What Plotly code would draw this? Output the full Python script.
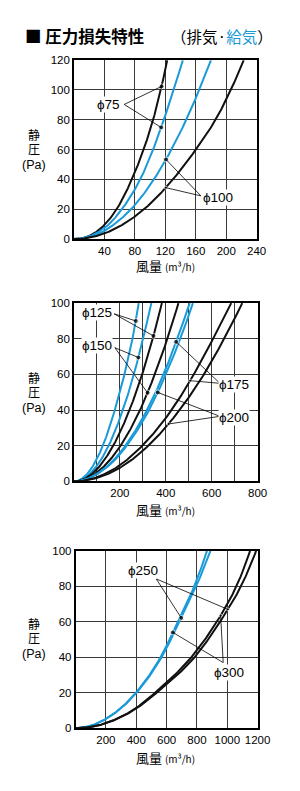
import numpy as np
import plotly.graph_objects as go

BLUE = "#1b9ad8"
BLACK = "#111111"
FONT = "Liberation Sans, Arial, Noto Sans CJK JP"
JFONT = "Noto Sans CJK JP, Liberation Sans"

# ---------------- data (flow m3/h at given static pressure Pa) ----------------
# Chart 1: phi75 / phi100
p1_levels = [0, 5, 10, 20, 40, 60, 80, 100, 120]
q1_phi75_exhaust = [0, 30, 41, 56, 76, 91.5, 104, 114, 122.5]
q1_phi75_supply = [0, 33, 46, 63, 87, 104, 118, 131, 143]
q1_phi100_supply = [0, 38, 53, 75, 105, 128, 147.5, 164.5, 180]
q1_phi100_exhaust = [0, 46, 65, 92, 130, 160, 186, 206, 223]

# Chart 2: phi125 / phi150 / phi175 / phi200
p2_levels = [0, 5, 10, 20, 40, 60, 80, 100]
q2_phi125_supply = [0, 63, 89, 126, 178, 220, 255, 282]
q2_phi150_supply = [0, 75, 107, 151, 213, 261, 301, 337]
q2_phi125_exhaust = [0, 86, 121, 171, 242, 297, 343, 383]
q2_phi150_exhaust = [0, 100, 143, 203, 288, 352, 407, 455]
q2_phi175_supply = [0, 110, 158, 224, 318, 390, 450, 504]
q2_phi200_supply = [0, 112, 162, 230, 327, 400, 463, 518]
q2_phi175_exhaust = [0, 148, 210, 298, 425, 522, 606, 685]
q2_phi200_exhaust = [0, 162, 229, 324, 460, 566, 654, 733]

# Chart 3: phi250 / phi300
p3_levels = [0, 5, 10, 20, 40, 60, 80, 100]
q3_phi250_supply = [0, 195, 280, 398, 560, 674, 782, 866]
q3_phi250_exhaust = [0, 196, 282, 402, 567, 684, 795, 889]
q3_phi300_exhaust = [0, 265, 375, 525, 763, 931, 1060, 1150]
q3_phi300_supply = [0, 268, 380, 535, 784, 952, 1090, 1190]

# tick labels
x1_ticks = [0, 40, 80, 120, 160, 200, 240]
x1_text = ["", "40", "80", "120", "160", "200", "240"]
y1_ticks = [0, 20, 40, 60, 80, 100, 120]
x2_ticks = [0, 100, 200, 300, 400, 500, 600, 700, 800]
x2_text = ["", "", "200", "", "400", "", "600", "", "800"]
y2_ticks = [0, 20, 40, 60, 80, 100]
x3_ticks = [0, 200, 400, 600, 800, 1000, 1200]
x3_text = ["", "200", "400", "600", "800", "1000", "1200"]
y3_ticks = [0, 20, 40, 60, 80, 100]


# ---------------- smooth interpolation (PCHIP in sqrt-pressure space) ----------------
def pchip(xk, yk, xn):
    xk = np.asarray(xk, float); yk = np.asarray(yk, float)
    h = np.diff(xk); delta = np.diff(yk) / h
    n = len(xk)
    d = np.zeros(n)
    for k in range(1, n - 1):
        if delta[k - 1] * delta[k] <= 0:
            d[k] = 0
        else:
            w1 = 2 * h[k] + h[k - 1]; w2 = h[k] + 2 * h[k - 1]
            d[k] = (w1 + w2) / (w1 / delta[k - 1] + w2 / delta[k])
    def endslope(h0, h1, d0, d1):
        s = ((2 * h0 + h1) * d0 - h0 * d1) / (h0 + h1)
        if np.sign(s) != np.sign(d0):
            s = 0
        elif np.sign(d0) != np.sign(d1) and abs(s) > abs(3 * d0):
            s = 3 * d0
        return s
    d[0] = endslope(h[0], h[1], delta[0], delta[1])
    d[-1] = endslope(h[-1], h[-2], delta[-1], delta[-2])
    idx = np.clip(np.searchsorted(xk, xn) - 1, 0, n - 2)
    t = (xn - xk[idx]) / h[idx]
    h00 = 2 * t**3 - 3 * t**2 + 1; h10 = t**3 - 2 * t**2 + t
    h01 = -2 * t**3 + 3 * t**2; h11 = t**3 - t**2
    return h00 * yk[idx] + h10 * h[idx] * d[idx] + h01 * yk[idx + 1] + h11 * h[idx] * d[idx + 1]


def smooth_curve(levels, q):
    s = np.sqrt(np.asarray(levels, float))
    sf = np.linspace(0, s[-1], 200)
    return pchip(s, q, sf), sf**2


# ---------------- layout helpers ----------------
W, H = 300, 791
def PX(x):
    return x / W
def PY(y):
    return 1 - y / H

panels = [
    dict(ax="", xdom=(77.3, 268.3), ydom=(55, 236.7), xr=[0, 240], yr=[0, 120],
         xt=x1_ticks, xtt=x1_text, yt=y1_ticks,
         levels=p1_levels,
         curves=[(q1_phi75_exhaust, BLACK), (q1_phi75_supply, BLUE),
                 (q1_phi100_supply, BLUE), (q1_phi100_exhaust, BLACK)],
         labels=[
             dict(text="ϕ75", pos=(45, 90.3), origin=(66, 90.3),
                  targets=[(q1_phi75_exhaust, 102.4, 5), (q1_phi75_supply, 74.9, 5)]),
             dict(text="ϕ100", pos=(189, 28.2), origin=(166.7, 29),
                  targets=[(q1_phi100_supply, 53.4, 5), (q1_phi100_exhaust, 34.5, 3)]),
         ],
         ytitle=(132, 146, 161), xtitle=264),
    dict(ax="2", xdom=(77.3, 269.3), ydom=(301.7, 482.7), xr=[0, 800], yr=[0, 100],
         xt=x2_ticks, xtt=x2_text, yt=y2_ticks,
         levels=p2_levels,
         curves=[(q2_phi125_supply, BLUE), (q2_phi150_supply, BLUE),
                 (q2_phi125_exhaust, BLACK), (q2_phi150_exhaust, BLACK),
                 (q2_phi175_supply, BLUE), (q2_phi200_supply, BLUE),
                 (q2_phi175_exhaust, BLACK), (q2_phi200_exhaust, BLACK)],
         labels=[
             dict(text="ϕ125", pos=(102, 94.5), origin=(175, 94),
                  targets=[(q2_phi125_supply, 90, 5), (q2_phi125_exhaust, 81.6, 5)]),
             dict(text="ϕ150", pos=(102, 76), origin=(178, 75),
                  targets=[(q2_phi150_supply, 69.5, 5), (q2_phi150_exhaust, 49.7, 5)]),
             dict(text="ϕ175", pos=(699, 54.5), origin=(636, 55),
                  targets=[(q2_phi175_supply, 78.3, 5), (q2_phi175_exhaust, 56.5, 3)]),
             dict(text="ϕ200", pos=(699, 35.6), origin=(636, 36.5),
                  targets=[(q2_phi200_supply, 49.9, 5), (q2_phi200_exhaust, 32.2, 3)]),
         ],
         ytitle=(379, 393, 408), xtitle=511),
    dict(ax="3", xdom=(79, 269.3), ydom=(553.3, 733.3), xr=[0, 1200], yr=[0, 100],
         xt=x3_ticks, xtt=x3_text, yt=y3_ticks,
         levels=p3_levels,
         curves=[(q3_phi250_supply, BLUE), (q3_phi250_exhaust, BLUE),
                 (q3_phi300_exhaust, BLACK), (q3_phi300_supply, BLACK)],
         labels=[
             dict(text="ϕ250", pos=(443, 88.8), origin=(532, 84.2),
                  targets=[(q3_phi250_exhaust, 62.2, 5), (q3_phi300_supply, 67, 3)]),
             dict(text="ϕ300", pos=(1013, 31.4), origin=(973, 37),
                  targets=[(q3_phi300_exhaust, 63.5, 3), (q3_phi250_supply, 54, 5)]),
         ],
         ytitle=(629, 643, 658), xtitle=763),
]

fig = go.Figure()
annotations = []
shapes = []

for pn in panels:
    a = pn["ax"]
    xref, yref = "x" + a, "y" + a
    for q, col in pn["curves"]:
        xs, ys = smooth_curve(pn["levels"], q)
        fig.add_trace(go.Scatter(x=xs, y=ys, mode="lines",
                                 line=dict(color=col, width=2),
                                 xaxis=xref, yaxis=yref, showlegend=False, hoverinfo="skip"))
    dots_x, dots_y, dots_s = [], [], []
    for lb in pn["labels"]:
        annotations.append(dict(text=lb["text"], x=lb["pos"][0], y=lb["pos"][1],
                                xref=xref, yref=yref, showarrow=False,
                                font=dict(family=FONT, size=13.5, color="black"),
                                bgcolor="white", borderpad=0))
        for q, pv, sz in lb["targets"]:
            xs, ys = smooth_curve(pn["levels"], q)
            qx = float(np.interp(pv, ys, xs))
            shapes.append(dict(type="line", xref=xref, yref=yref,
                               x0=lb["origin"][0], y0=lb["origin"][1], x1=qx, y1=pv,
                               line=dict(color="black", width=0.8), layer="above"))
            dots_x.append(qx); dots_y.append(pv); dots_s.append(sz)
    fig.add_trace(go.Scatter(x=dots_x, y=dots_y, mode="markers",
                             marker=dict(color="black", size=dots_s),
                             xaxis=xref, yaxis=yref, showlegend=False, hoverinfo="skip"))

    axis_common = dict(showgrid=True, gridcolor="#3a3a3a", gridwidth=1, zeroline=False,
                       showline=True, linecolor="black", linewidth=1.5, mirror=True,
                       ticks="", tickfont=dict(family=FONT, size=11.5, color="black"))
    fig.update_layout(**{
        "xaxis" + a: dict(domain=[PX(pn["xdom"][0]), PX(pn["xdom"][1])], range=pn["xr"],
                          tickmode="array", tickvals=pn["xt"], ticktext=pn["xtt"],
                          anchor=yref, **axis_common),
        "yaxis" + a: dict(domain=[PY(pn["ydom"][1]), PY(pn["ydom"][0])], range=pn["yr"],
                          tickmode="array", tickvals=pn["yt"],
                          ticktext=[str(v) for v in pn["yt"]],
                          anchor=xref, **axis_common),
    })
    # y title: three stacked short texts
    for txt, yy, fs in zip(["静", "圧", "(Pa)"], pn["ytitle"], [12, 12, 12.5]):
        annotations.append(dict(text=txt, x=PX(36), y=PY(yy), xref="paper", yref="paper",
                                showarrow=False, xanchor="center", yanchor="middle",
                                font=dict(family=FONT, size=fs, color="black")))
    annotations.append(dict(text="風量 <span style='font-size:10px'>(m³/h)</span>",
                            x=PX(173), y=PY(pn["xtitle"]), xref="paper", yref="paper",
                            showarrow=False, xanchor="center", yanchor="middle",
                            font=dict(family=JFONT, size=13, color="black")))

# title
annotations.append(dict(text="<b>■ 圧力損失特性</b>", x=PX(24), y=PY(30), xref="paper", yref="paper",
                        showarrow=False, xanchor="left", yanchor="middle",
                        font=dict(family=JFONT, size=16.5, color="black")))
annotations.append(dict(text="（排気·<span style='color:%s'>給気</span>）" % BLUE,
                        x=PX(177), y=PY(30), xref="paper", yref="paper",
                        showarrow=False, xanchor="left", yanchor="middle",
                        font=dict(family=JFONT, size=15.5, color="black")))

fig.update_layout(width=W, height=H, margin=dict(l=0, r=0, t=0, b=0),
                  paper_bgcolor="white", plot_bgcolor="white",
                  annotations=annotations, shapes=shapes, showlegend=False)

fig.write_html("out.html")
